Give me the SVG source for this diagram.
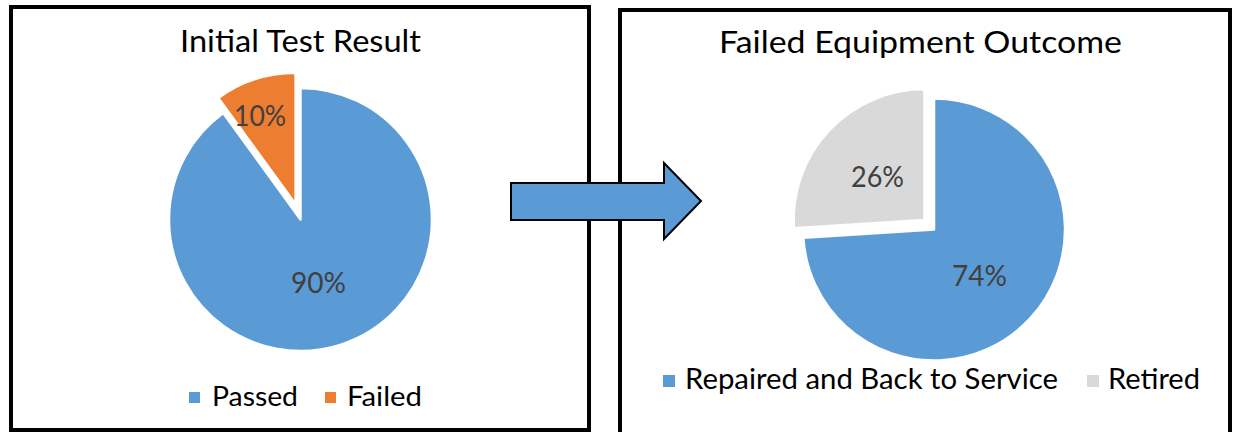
<svg xmlns="http://www.w3.org/2000/svg" width="1235" height="432" viewBox="0 0 1235 432">
  <style>
    .frame { fill: #ffffff; stroke: #000000; stroke-width: 4; }
    .slice { stroke: #ffffff; stroke-width: 2.5; stroke-linejoin: round; }
    .blue { fill: #5B9BD5; }
    .orange { fill: #ED7D31; }
    .gray { fill: #D9D9D9; }
    .title { font-family: Lato, "Open Sans", sans-serif; font-size: 30px; fill: #000000; }
    .pct { font-family: Lato, "Open Sans", sans-serif; font-size: 28px; fill: #404040; }
    .legend { font-family: Lato, "Open Sans", sans-serif; font-size: 26px; fill: #000000; }
    .legend-lg { font-family: Lato, "Open Sans", sans-serif; font-size: 29px; fill: #000000; }
  </style>

  <!-- Left chart: initial test result -->
  <g id="chart-initial">
    <rect class="frame" x="11" y="7" width="578" height="423"/>
    <text class="title" x="180" y="52" textLength="241" lengthAdjust="spacingAndGlyphs">Initial Test Result</text>
    <path class="slice blue" d="M300.5,219.5 L300.5,88 A131.5,131.5 0 1 1 223.2,113.1 Z"/>
    <path class="slice orange" d="M295.6,204.3 L218.3,97.9 A131.5,131.5 0 0 1 295.6,72.8 Z"/>
    <text class="pct" x="234" y="126" textLength="52" lengthAdjust="spacingAndGlyphs">10%</text>
    <text class="pct" x="291" y="293" textLength="55" lengthAdjust="spacingAndGlyphs">90%</text>
    <rect class="blue" x="189" y="392" width="11" height="11"/>
    <text class="legend" x="212" y="406" textLength="86" lengthAdjust="spacingAndGlyphs">Passed</text>
    <rect class="orange" x="325" y="392" width="11" height="11"/>
    <text class="legend" x="347" y="406" textLength="75" lengthAdjust="spacingAndGlyphs">Failed</text>
  </g>

  <!-- Right chart: outcome of failed equipment -->
  <g id="chart-outcome">
    <rect class="frame" x="620" y="10" width="610" height="430"/>
    <text class="title" x="719" y="53" textLength="403" lengthAdjust="spacingAndGlyphs">Failed Equipment Outcome</text>
    <path class="slice blue" d="M934,229.5 L934,98.5 A131,131 0 1 1 803.3,237.7 Z"/>
    <path class="slice gray" d="M924.5,220.1 L793.8,228.3 A131,131 0 0 1 924.5,89.1 Z"/>
    <text class="pct" x="851" y="187" textLength="53" lengthAdjust="spacingAndGlyphs">26%</text>
    <text class="pct" x="952" y="286" textLength="55" lengthAdjust="spacingAndGlyphs">74%</text>
    <rect class="blue" x="663" y="375" width="12" height="12"/>
    <text class="legend-lg" x="685" y="389" textLength="373" lengthAdjust="spacingAndGlyphs">Repaired and Back to Service</text>
    <rect class="gray" x="1087" y="375" width="12" height="12"/>
    <text class="legend-lg" x="1108" y="389" textLength="92" lengthAdjust="spacingAndGlyphs">Retired</text>
  </g>

  <!-- Block arrow linking the two charts -->
  <g id="connectors">
    <polygon points="511,183 664,183 664,163 701,201 664,239 664,220 511,220" fill="#5B9BD5" stroke="#000000" stroke-width="2" stroke-linejoin="miter"/>
  </g>
</svg>
